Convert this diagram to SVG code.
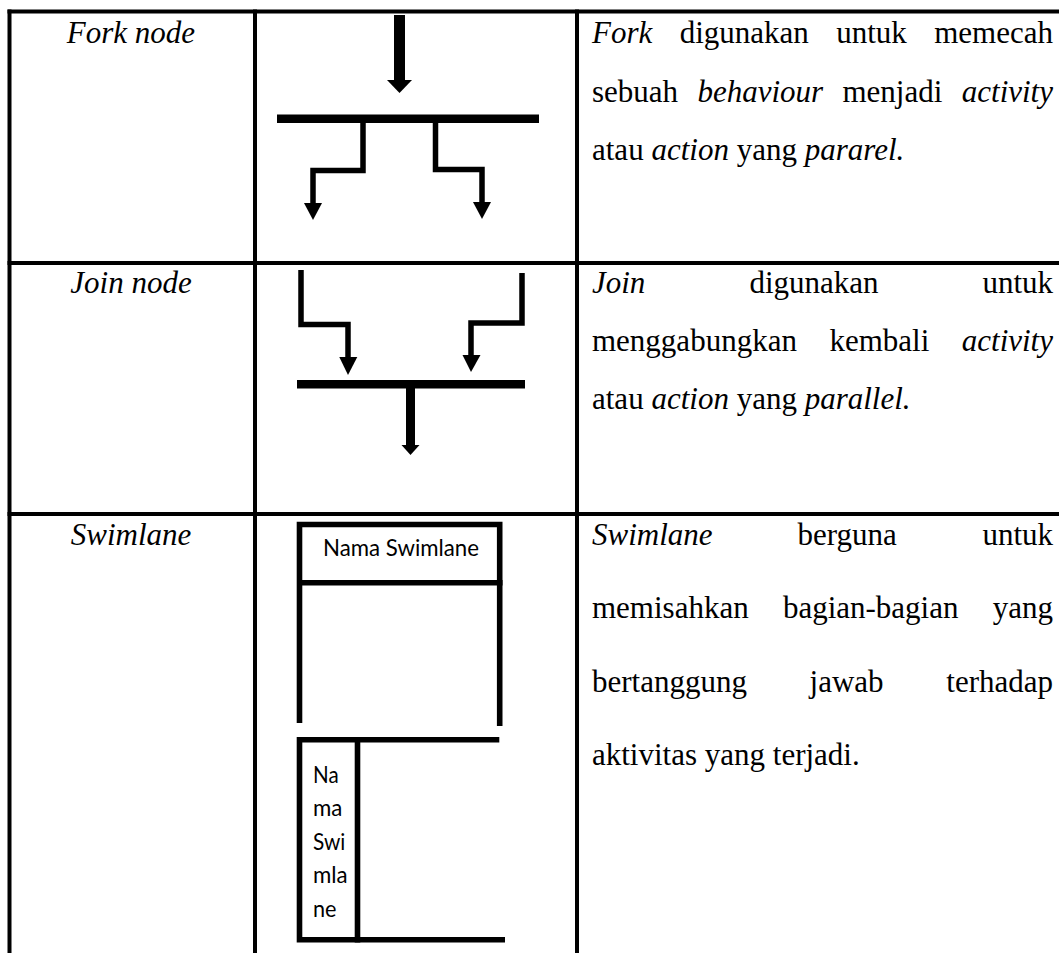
<svg xmlns="http://www.w3.org/2000/svg" width="1059" height="953" viewBox="0 0 1059 953">
<style>
.grid{stroke:#000;stroke-width:4;fill:none}
.lbl{font-family:"Liberation Serif","Times New Roman",serif;font-size:31px;font-style:italic;fill:#000;text-anchor:middle}
.desc{font-family:"Liberation Serif","Times New Roman",serif;font-size:31px;fill:#000}
.it{font-style:italic}
.end{text-anchor:end}
.solid{fill:#000}
.flow{stroke:#000;stroke-width:5.5;fill:none;stroke-linejoin:miter;stroke-linecap:butt}
.lane{stroke:#000;stroke-width:5.6;fill:none;stroke-linejoin:miter;stroke-linecap:butt}
.sl{font-family:Lato,"Open Sans",sans-serif;font-size:22.5px;fill:#000}
</style>
<rect width="1059" height="953" fill="#fff"/>

<g id="table-grid" class="grid">
  <line x1="9.5" y1="9.5" x2="9.5" y2="953"/>
  <line x1="255" y1="9.5" x2="255" y2="953"/>
  <line x1="577" y1="9.5" x2="577" y2="953"/>
  <line x1="7.5" y1="11.5" x2="1059" y2="11.5"/>
  <line x1="7.5" y1="263" x2="1059" y2="263"/>
  <line x1="7.5" y1="514" x2="1059" y2="514"/>
</g>

<g id="fork-node">
  <text class="lbl" x="131" y="43">Fork node</text>
  <rect class="solid" x="277" y="114.5" width="262" height="8.5"/>
  <g class="desc">
    <text x="592" y="43" class="it">Fork</text>
    <text x="679.7" y="43">digunakan</text>
    <text x="836.2" y="43">untuk</text>
    <text x="1053" y="43" class="end">memecah</text>
    <text x="592" y="101.5">sebuah</text>
    <text x="697.4" y="101.5" class="it">behaviour</text>
    <text x="842.4" y="101.5">menjadi</text>
    <text x="1053" y="101.5" class="end it">activity</text>
    <text x="592" y="160">atau <tspan class="it">action</tspan> yang <tspan class="it">pararel.</tspan></text>
  </g>
</g>

<g id="join-node">
  <text class="lbl" x="131" y="293">Join node</text>
  <rect class="solid" x="297" y="380" width="228" height="8.5"/>
  <g class="desc">
    <text x="592" y="293" class="it">Join</text>
    <text x="749.4" y="293">digunakan</text>
    <text x="1053" y="293" class="end">untuk</text>
    <text x="592" y="351">menggabungkan</text>
    <text x="829.4" y="351">kembali</text>
    <text x="1053" y="351" class="end it">activity</text>
    <text x="592" y="409">atau <tspan class="it">action</tspan> yang <tspan class="it">parallel.</tspan></text>
  </g>
</g>

<g id="swimlane">
  <text class="lbl" x="131" y="545">Swimlane</text>
  <g id="swimlane-horizontal">
    <path class="lane" d="M299.5,723 V524.5 H499.7 V726"/>
    <path class="lane" d="M297,582.7 H502.5"/>
    <text class="sl" x="323" y="556" textLength="156" lengthAdjust="spacingAndGlyphs">Nama Swimlane</text>
  </g>
  <g id="swimlane-vertical">
    <path class="lane" d="M499.3,739.7 H299.5 V939.7 H505"/>
    <path class="lane" d="M357.5,737 V942.5"/>
    <g class="sl">
      <text x="313" y="783" textLength="25.6" lengthAdjust="spacingAndGlyphs">Na</text>
      <text x="313" y="816" textLength="29.4" lengthAdjust="spacingAndGlyphs">ma</text>
      <text x="313" y="850" textLength="32.3" lengthAdjust="spacingAndGlyphs">Swi</text>
      <text x="313" y="883" textLength="34.7" lengthAdjust="spacingAndGlyphs">mla</text>
      <text x="313" y="917" textLength="23.5" lengthAdjust="spacingAndGlyphs">ne</text>
    </g>
  </g>
  <g class="desc">
    <text x="592" y="545" class="it">Swimlane</text>
    <text x="797.5" y="545">berguna</text>
    <text x="1053" y="545" class="end">untuk</text>
    <text x="592" y="618">memisahkan</text>
    <text x="782.9" y="618">bagian-bagian</text>
    <text x="1053" y="618" class="end">yang</text>
    <text x="592" y="692">bertanggung</text>
    <text x="809.6" y="692">jawab</text>
    <text x="1053" y="692" class="end">terhadap</text>
    <text x="592" y="765">aktivitas yang terjadi.</text>
  </g>
</g>

<g id="connectors">
  <line x1="399.5" y1="15" x2="399.5" y2="81" stroke="#000" stroke-width="11"/>
  <polygon class="solid" points="387,80 412,80 399.5,93"/>
  <polyline class="flow" points="363,122 363,170.5 313,170.5 313,204"/>
  <polygon class="solid" points="304,203 322,203 313,220"/>
  <polyline class="flow" points="435.5,122 435.5,169.5 482,169.5 482,203"/>
  <polygon class="solid" points="473,202 491,202 482,219"/>

  <polyline class="flow" points="301,270 301,324.5 348,324.5 348,358"/>
  <polygon class="solid" points="339.3,357 357.3,357 348,375"/>
  <polyline class="flow" points="522,273 522,323 471,323 471,356"/>
  <polygon class="solid" points="462.5,355 480.5,355 471,372"/>
  <line x1="410.5" y1="388" x2="410.5" y2="446" stroke="#000" stroke-width="9"/>
  <polygon class="solid" points="401.5,445 419.5,445 410.5,455"/>
</g>
</svg>
